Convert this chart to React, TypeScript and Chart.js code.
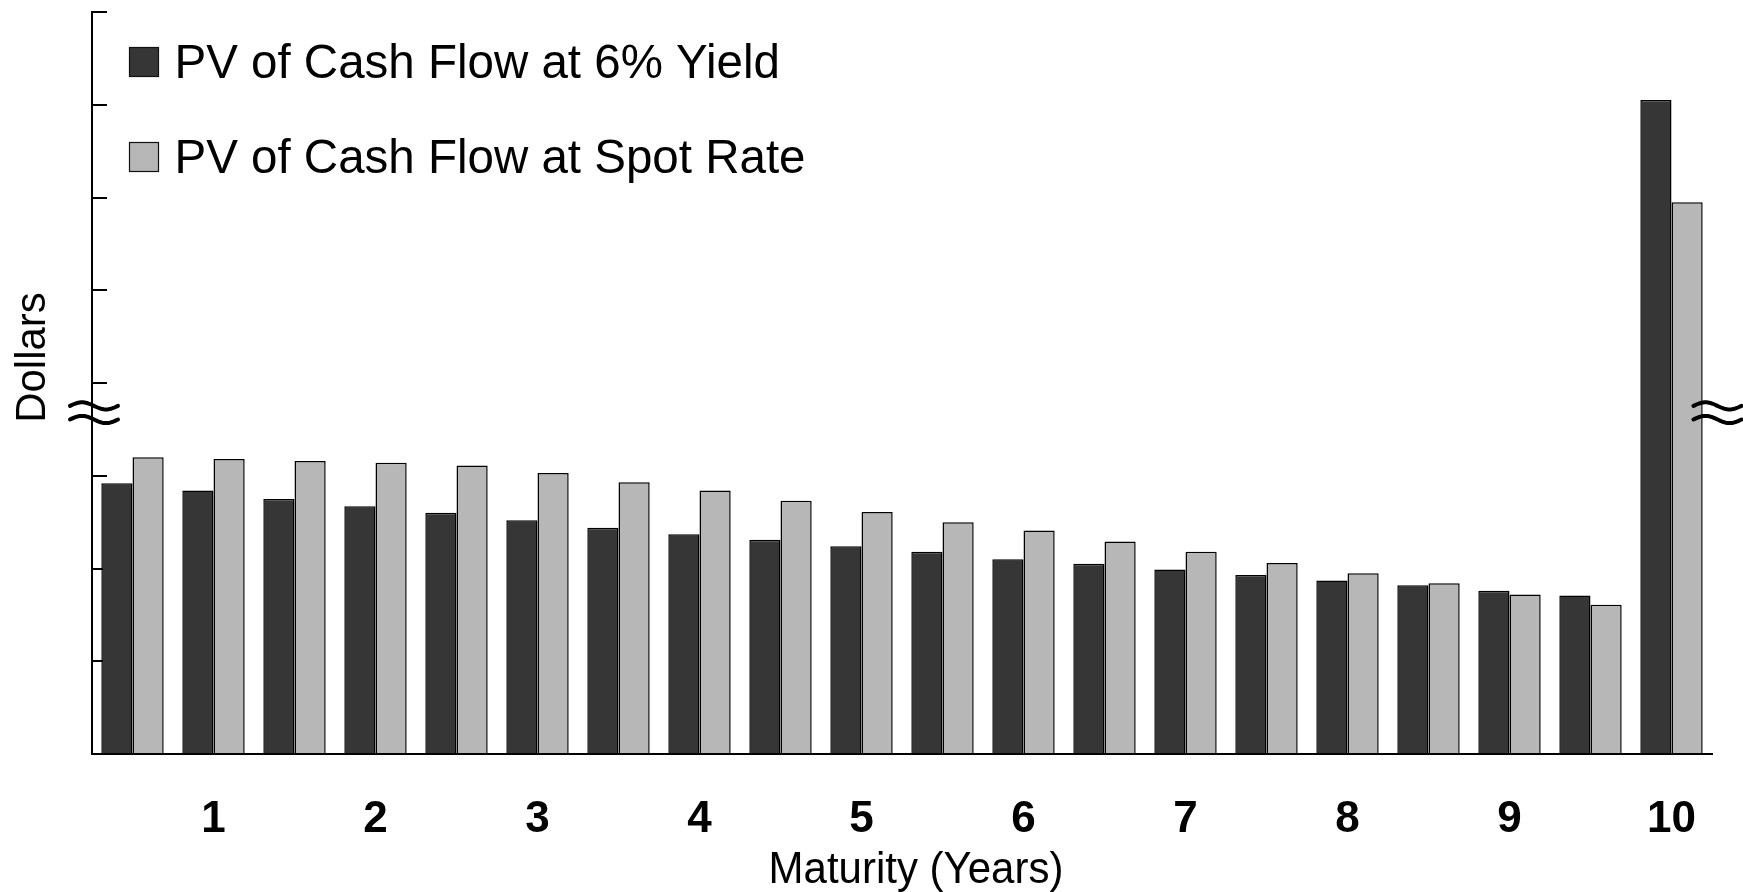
import React, { useEffect, useRef } from "react";
import { Chart, registerables } from "chart.js";

Chart.register(...registerables);

// Semiannual payment dates, in years to maturity
const maturities = [
  "0.5", "1", "1.5", "2", "2.5", "3", "3.5", "4", "4.5", "5",
  "5.5", "6", "6.5", "7", "7.5", "8", "8.5", "9", "9.5", "10",
];

// Present value of each cash flow (axis is broken and unlabelled, so units are relative)
const pvAtYield = [
  2.92, 2.84, 2.75, 2.67, 2.6, 2.52, 2.44, 2.37, 2.31, 2.24,
  2.18, 2.1, 2.05, 1.99, 1.93, 1.87, 1.82, 1.76, 1.71, 7.05,
];
const pvAtSpot = [
  3.2, 3.18, 3.16, 3.14, 3.11, 3.03, 2.93, 2.84, 2.73, 2.61,
  2.5, 2.41, 2.29, 2.18, 2.06, 1.95, 1.84, 1.72, 1.61, 5.95,
];

const seriesNames = ["PV of Cash Flow at 6% Yield", "PV of Cash Flow at Spot Rate"];
const seriesColors = ["#363636", "#b7b7b7"];

const yTitle = "Dollars";
const xTitle = "Maturity (Years)";

const FONT = "'Liberation Sans', Arial, Helvetica, sans-serif";
const BREAK_AT = 3.68; // where the axis-break marks sit on the value axis

function drawWave(ctx: CanvasRenderingContext2D, cx: number, cy: number) {
  const half = 24;
  const amp = 3.6;
  for (const off of [-6.8, 6.8]) {
    ctx.beginPath();
    for (let i = 0; i <= 40; i++) {
      const t = i / 40;
      const x = cx - half + 2 * half * t;
      const y = cy + off - amp * Math.sin(2 * Math.PI * t);
      if (i === 0) ctx.moveTo(x, y);
      else ctx.lineTo(x, y);
    }
    ctx.stroke();
  }
}

const decorations = {
  id: "decorations",
  afterDraw(chart: any) {
    const { ctx, chartArea, scales } = chart;
    ctx.save();

    // axis-break marks on both sides
    ctx.strokeStyle = "#000";
    ctx.lineWidth = 4;
    ctx.lineCap = "round";
    const by = scales.y.getPixelForValue(BREAK_AT);
    drawWave(ctx, chartArea.left + 2, by);
    drawWave(ctx, chartArea.right + 5.5, by);

    // legend inside the plot
    const ds = chart.data.datasets;
    ctx.font = `47.5px ${FONT}`;
    ctx.textAlign = "left";
    ctx.textBaseline = "alphabetic";
    const boxTops = [47, 142];
    ds.forEach((d: any, i: number) => {
      const top = boxTops[i];
      ctx.fillStyle = d.backgroundColor;
      ctx.fillRect(129.5, top + 0.5, 29, 29);
      ctx.strokeStyle = "#111";
      ctx.lineWidth = 1.2;
      ctx.strokeRect(129.5, top + 0.5, 29, 29);
      ctx.fillStyle = "#000";
      ctx.fillText(d.label, 174.5, top + 31);
    });

    // axis titles
    ctx.font = `42px ${FONT}`;
    ctx.fillStyle = "#000";
    ctx.textAlign = "center";
    ctx.save();
    ctx.translate(916, 883);
    ctx.scale(1, 1.05);
    ctx.fillText(xTitle, 0, 0);
    ctx.restore();

    ctx.translate(45, 357.5);
    ctx.rotate(-Math.PI / 2);
    ctx.fillText(yTitle, 0, 0);

    ctx.restore();
  },
};

export default function App() {
  const canvasRef = useRef<HTMLCanvasElement | null>(null);

  useEffect(() => {
    if (!canvasRef.current) return;
    const chart = new Chart(canvasRef.current, {
      type: "bar",
      data: {
        labels: maturities,
        datasets: [
          {
            label: seriesNames[0],
            data: pvAtYield,
            backgroundColor: seriesColors[0],
            borderColor: "#000",
            borderWidth: 1.5,
          },
          {
            label: seriesNames[1],
            data: pvAtSpot,
            backgroundColor: seriesColors[1],
            borderColor: "#000",
            borderWidth: 1.5,
          },
        ],
      },
      options: {
        animation: false,
        responsive: true,
        maintainAspectRatio: false,
        datasets: {
          bar: { categoryPercentage: 0.77, barPercentage: 1 },
        },
        layout: { padding: { left: 0, right: 31, top: 12, bottom: 0 } },
        plugins: {
          legend: { display: false },
          tooltip: { enabled: false },
          title: { display: false },
        },
        scales: {
          x: {
            grid: { display: false, drawTicks: false },
            border: { display: true, color: "#000", width: 2 },
            ticks: {
              autoSkip: false,
              maxRotation: 0,
              padding: 39,
              color: "#000",
              font: { family: FONT, size: 44, weight: "bold" },
              callback: (_v: any, i: number) => {
                const m = Number(maturities[i]);
                return Number.isInteger(m) ? String(m) : "";
              },
            },
            afterFit: (scale: any) => {
              scale.height = 138;
            },
          },
          y: {
            min: 0,
            max: 8,
            grid: {
              display: true,
              drawOnChartArea: false,
              drawTicks: true,
              tickLength: -15,
              color: "#000",
              lineWidth: 2,
            },
            border: { display: true, color: "#000", width: 2 },
            ticks: { display: false, stepSize: 1 },
            afterFit: (scale: any) => {
              scale.width = 92;
            },
          },
        },
      },
      plugins: [decorations],
    });
    return () => chart.destroy();
  }, []);

  return (
    <div style={{ position: "absolute", left: 0, top: 0, width: 1743, height: 892, background: "#fff" }}>
      <canvas ref={canvasRef} />
    </div>
  );
}
